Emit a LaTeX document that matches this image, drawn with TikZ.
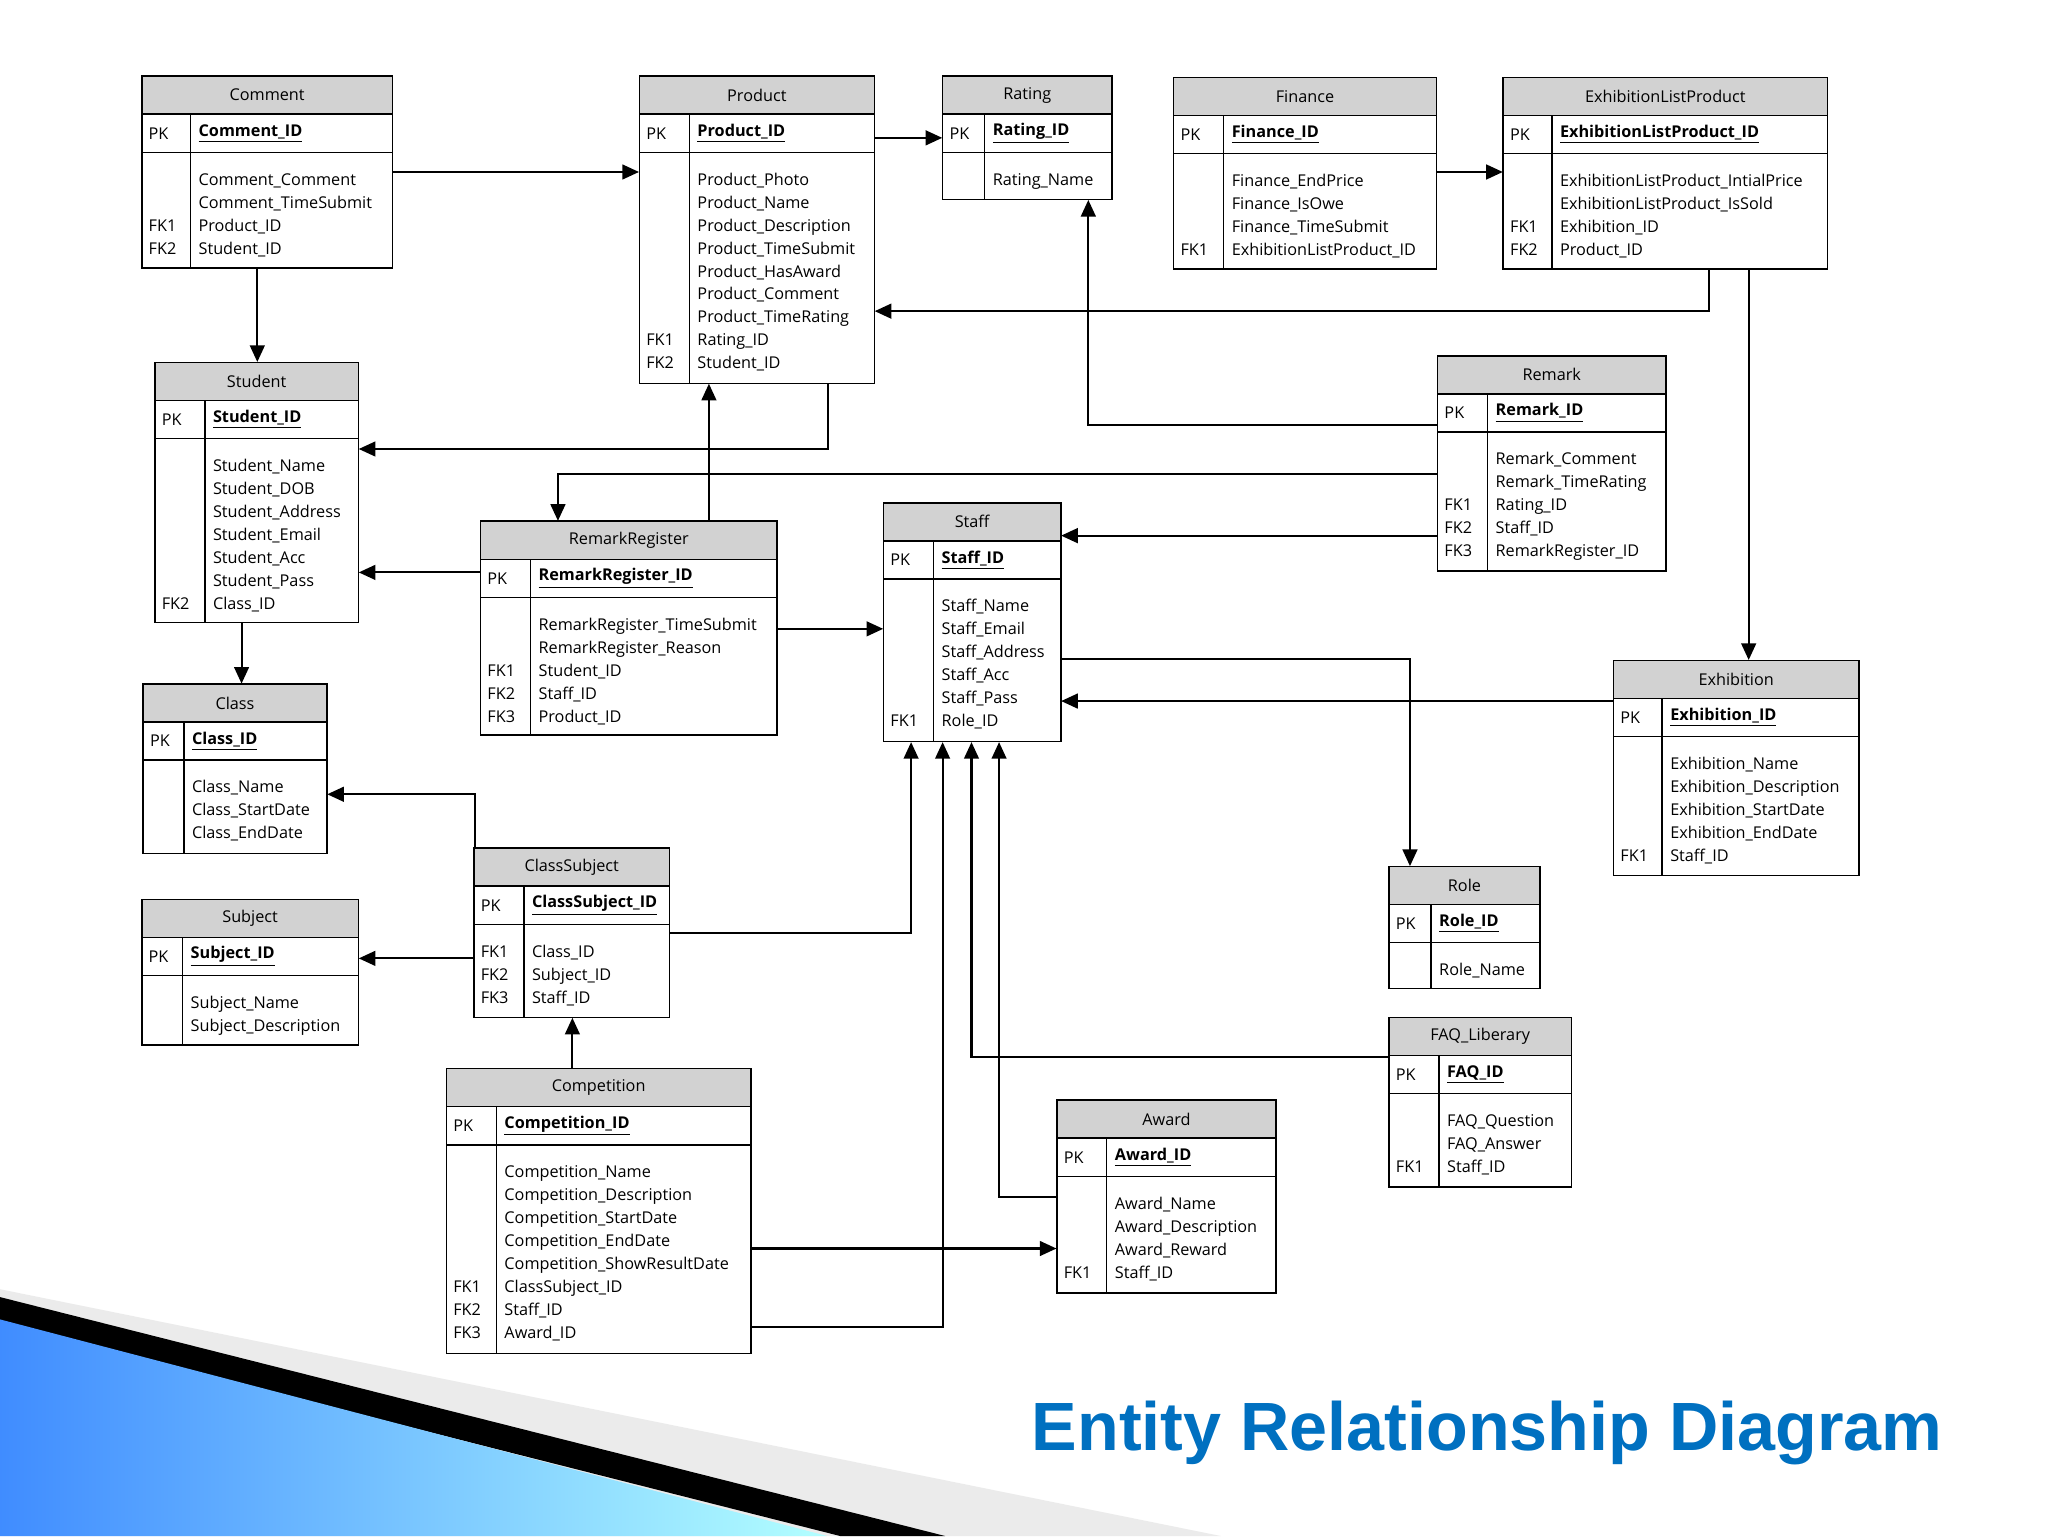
\documentclass[tikz,border=0pt]{standalone}
\usepackage{fontspec}
\setmainfont{Open Sans}
\newfontfamily\ttlfont{Liberation Sans}
\usetikzlibrary{arrows.meta,fit}
\definecolor{hdr}{RGB}{210,210,210}
\definecolor{ttl}{RGB}{0,112,192}
\tikzset{x=0.25mm,y=-0.25mm,
 box/.style={draw=black,line width=0.8pt},
 t/.style={font=\fontsize{8.8}{10}\selectfont,inner sep=0},
 conn/.style={line width=1.1pt,-{Triangle[length=9pt,width=8pt]}}}
\newcommand\erent[9]{%
 \filldraw[box,fill=hdr] (#2,#3) rectangle (#4,#3+29);
 \draw[box] (#2,#3+29) rectangle (#4,#5);
 \draw[box] (#2,#3+58)--(#4,#3+58);
 \draw[box] (#6,#3+29)--(#6,#5);
 \node[t] at ({(#2+#4)/2},#3+14.5) {#7};
 \node[t,anchor=west] at (#2+5,#3+43.5) {PK};
 \node[t,anchor=west,font=\fontsize{8.8}{10}\selectfont\bfseries] at (#6+6,#3+43.5) {\underline{#8}};
 \foreach \k/\a [count=\i from 0] in {#9} {
   \node[t,anchor=base west] at (#2+5,#3+58+25+\i*17.5) {\k};
   \node[t,anchor=base west] at (#6+6,#3+58+25+\i*17.5) {\a};}
 \coordinate (#1-a) at (#2,#3); \coordinate (#1-b) at (#4,#5);
 \node[inner sep=0,fit=(#1-a)(#1-b)] (#1) {};
}
\begin{document}
\begin{tikzpicture}
\useasboundingbox (0,0) rectangle (1560,1170);
% decoration
\fill[black!8] (0,982) -- (930,1170) -- (0,1170) -- cycle;
\fill[black] (0,988) -- (720,1170) -- (640,1170) -- (0,1008) -- cycle;
\shade[left color=cyan!40!blue!75,right color=cyan!30] (0,1005) -- (630,1170) -- (0,1170) -- cycle;
\node[anchor=base east,text=ttl,font=\fontsize{37}{40}\selectfont\ttlfont\bfseries,inner sep=0] (title) at (1480,1105) {Entity Relationship Diagram};

\erent{Comment}{108}{58}{299}{204}{145}{Comment}{Comment\_ID}{/Comment\_Comment,/Comment\_TimeSubmit,FK1/Product\_ID,FK2/Student\_ID}
\erent{Product}{487}{58}{666}{292}{525}{Product}{Product\_ID}{/Product\_Photo,/Product\_Name,/Product\_Description,/Product\_TimeSubmit,/Product\_HasAward,/Product\_Comment,/Product\_TimeRating,FK1/Rating\_ID,FK2/Student\_ID}
\erent{Rating}{718}{58}{847}{152}{750}{Rating}{Rating\_ID}{/Rating\_Name}
\erent{Finance}{894}{59}{1094}{205}{932}{Finance}{Finance\_ID}{/Finance\_EndPrice,/Finance\_IsOwe,/Finance\_TimeSubmit,FK1/ExhibitionListProduct\_ID}
\erent{ELP}{1145}{59}{1392}{205}{1182}{ExhibitionListProduct}{ExhibitionListProduct\_ID}{/ExhibitionListProduct\_IntialPrice,/ExhibitionListProduct\_IsSold,FK1/Exhibition\_ID,FK2/Product\_ID}
\erent{Student}{118}{276}{273}{474}{156}{Student}{Student\_ID}{/Student\_Name,/Student\_DOB,/Student\_Address,/Student\_Email,/Student\_Acc,/Student\_Pass,FK2/Class\_ID}
\erent{Remark}{1095}{271}{1269}{435}{1133}{Remark}{Remark\_ID}{/Remark\_Comment,/Remark\_TimeRating,FK1/Rating\_ID,FK2/Staff\_ID,FK3/RemarkRegister\_ID}
\erent{RR}{366}{397}{592}{560}{404}{RemarkRegister}{RemarkRegister\_ID}{/RemarkRegister\_TimeSubmit,/RemarkRegister\_Reason,FK1/Student\_ID,FK2/Staff\_ID,FK3/Product\_ID}
\erent{Staff}{673}{383}{808}{565}{711}{Staff}{Staff\_ID}{/Staff\_Name,/Staff\_Email,/Staff\_Address,/Staff\_Acc,/Staff\_Pass,FK1/Role\_ID}
\erent{Class}{109}{521}{249}{650}{140}{Class}{Class\_ID}{/Class\_Name,/Class\_StartDate,/Class\_EndDate}
\erent{Exhibition}{1229}{503}{1416}{667}{1266}{Exhibition}{Exhibition\_ID}{/Exhibition\_Name,/Exhibition\_Description,/Exhibition\_StartDate,/Exhibition\_EndDate,FK1/Staff\_ID}
\erent{CS}{361}{646}{510}{775}{399}{ClassSubject}{ClassSubject\_ID}{FK1/Class\_ID,FK2/Subject\_ID,FK3/Staff\_ID}
\erent{Subject}{108}{685}{273}{796}{139}{Subject}{Subject\_ID}{/Subject\_Name,/Subject\_Description}
\erent{Role}{1058}{660}{1173}{753}{1090}{Role}{Role\_ID}{/Role\_Name}
\erent{FAQ}{1058}{775}{1197}{904}{1096}{FAQ\_Liberary}{FAQ\_ID}{/FAQ\_Question,/FAQ\_Answer,FK1/Staff\_ID}
\erent{Comp}{340}{814}{572}{1031}{378}{Competition}{Competition\_ID}{/Competition\_Name,/Competition\_Description,/Competition\_StartDate,/Competition\_EndDate,/Competition\_ShowResultDate,FK1/ClassSubject\_ID,FK2/Staff\_ID,FK3/Award\_ID}
\erent{Award}{805}{838}{972}{985}{843}{Award}{Award\_ID}{/Award\_Name,/Award\_Description,/Award\_Reward,FK1/Staff\_ID}

% connectors
\draw[conn] (Comment.east |- 0,131) -- (Product.west |- 0,131);
\draw[conn] (Comment.south -| 196,0) -- (Student.north -| 196,0);
\draw[conn] (Product.east |- 0,105) -- (Rating.west |- 0,105);
\draw[conn] (Finance.east |- 0,131) -- (ELP.west |- 0,131);
\draw[conn] (ELP.south -| 1302,0) -- (1302,237) -- (Product.east |- 0,237);
\draw[conn] (ELP.south -| 1332,0) -- (Exhibition.north -| 1332,0);
\draw[conn] (Remark.west |- 0,324) -- (829,324) -- (Rating.south -| 829,0);
\draw[conn] (Remark.west |- 0,361) -- (425,361) -- (RR.north -| 425,0);
\draw[conn] (Remark.west |- 0,408) -- (Staff.east |- 0,408);
\draw[conn] (Product.south -| 631,0) -- (631,342) -- (Student.east |- 0,342);
\draw[conn] (RR.north -| 540,0) -- (Product.south -| 540,0);
\draw[conn] (RR.west |- 0,436) -- (Student.east |- 0,436);
\draw[conn] (RR.east |- 0,479) -- (Staff.west |- 0,479);
\draw[conn] (Student.south -| 184,0) -- (Class.north -| 184,0);
\draw[conn] (Staff.east |- 0,502) -- (1074,502) -- (Role.north -| 1074,0);
\draw[conn] (Exhibition.west |- 0,534) -- (Staff.east |- 0,534);
\draw[conn] (CS.north -| 362,0) -- (362,605) -- (Class.east |- 0,605);
\draw[conn] (CS.west |- 0,730) -- (Subject.east |- 0,730);
\draw[conn] (CS.east |- 0,711) -- (694,711) -- (Staff.south -| 694,0);
\draw[conn] (Comp.north -| 436,0) -- (CS.south -| 436,0);
\draw[conn] (Comp.east |- 0,951) -- (Award.west |- 0,951);
\draw[conn] (Comp.east |- 0,1011) -- (718,1011) -- (Staff.south -| 718,0);
\draw[conn] (FAQ.west |- 0,805) -- (740,805) -- (Staff.south -| 740,0);
\draw[conn] (Award.west |- 0,912) -- (761,912) -- (Staff.south -| 761,0);
\end{tikzpicture}
\end{document}
